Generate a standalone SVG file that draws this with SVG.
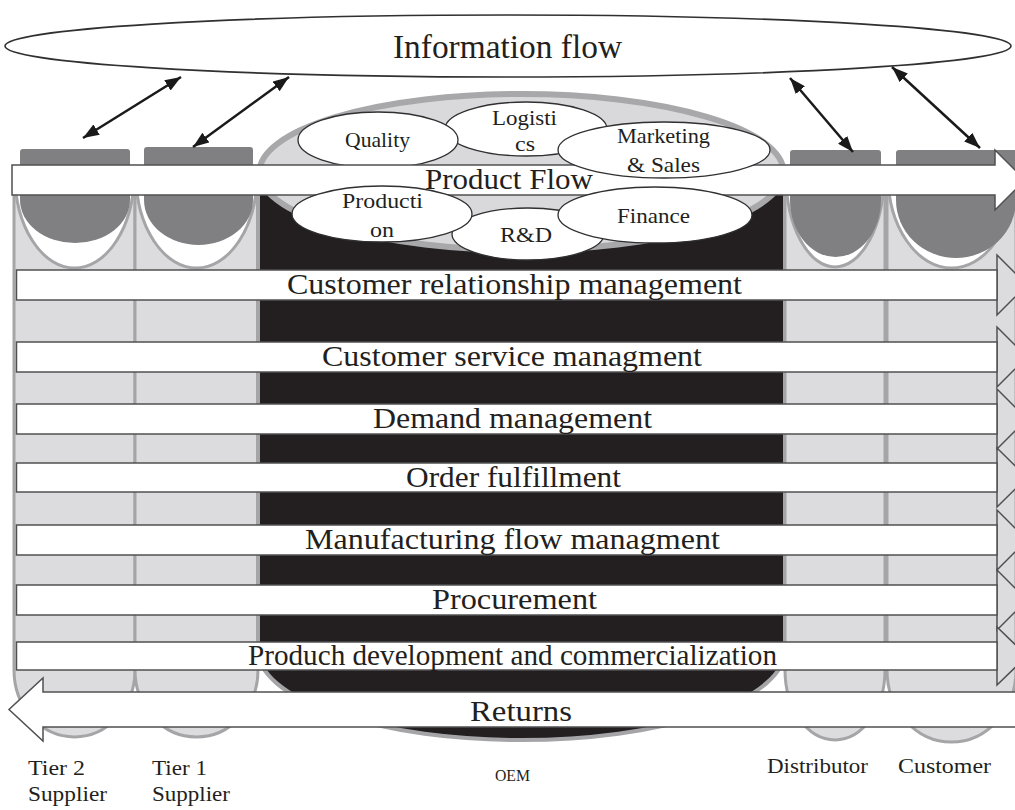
<svg xmlns="http://www.w3.org/2000/svg" width="1015" height="810" viewBox="0 0 1015 810">
  <defs>
    <style>
      .lbl{font-family:"Liberation Serif","Times New Roman",serif;fill:#231f20}
      .body{fill:#dcdcde;stroke:#a5a5a7;stroke-width:3}
      .cap{fill:#808083}
      .rim{fill:#fff;stroke:#a5a5a7;stroke-width:3}
      .bar{fill:#fff;stroke:#505052;stroke-width:1.5}
      .head{fill:#dcdcde;stroke:#505052;stroke-width:1.5}
      .fn{fill:#fff;stroke:#303032;stroke-width:1.3}
      .link{stroke:#1a1a1a;stroke-width:2.5;fill:none;marker-start:url(#tip);marker-end:url(#tip)}
    </style>
    <marker id="tip" viewBox="0 0 16 12" refX="16" refY="6" markerWidth="16" markerHeight="12" markerUnits="userSpaceOnUse" orient="auto-start-reverse">
      <path d="M0,0 L16,6 L0,12 Z" fill="#1a1a1a"/>
    </marker>
  </defs>

  <rect width="1015" height="810" fill="#fff"/>

  <!-- information layer -->
  <g id="information-flow">
    <ellipse cx="508" cy="46" rx="503" ry="31" fill="#fff" stroke="#303032" stroke-width="1.6"/>
    <text class="lbl" x="393" y="58" font-size="34" textLength="229" lengthAdjust="spacingAndGlyphs">Information flow</text>
  </g>

  <!-- supply chain members as cylinders -->
  <g id="tier2-supplier">
    <path class="body" d="M14,170 V670 A60.5,67 0 0 0 135,670 V170 Z"/>
    <path class="rim" d="M15,175 A59.5,93 0 0 0 134,175 Z"/>
    <path class="cap" d="M20,152 Q20,149 23,149 H127 Q130,149 130,152 V200 A55,43 0 0 1 20,200 Z"/>
  </g>
  <g id="tier1-supplier">
    <path class="body" d="M135,170 V670 A61.5,67 0 0 0 258,670 V170 Z"/>
    <path class="rim" d="M136,175 A60.5,93 0 0 0 257,175 Z"/>
    <path class="cap" d="M144,150 Q144,147 147,147 H250 Q253,147 253,150 V200 A54.5,45 0 0 1 144,200 Z"/>
  </g>
  <g id="oem">
    <path d="M258,172 V650 A263.5,90 0 0 0 785,650 V172 Z" fill="#231f20" stroke="#a5a5a7" stroke-width="4"/>
    <ellipse cx="521.5" cy="172" rx="262" ry="78" fill="#d9d9db" stroke="#a8a8aa" stroke-width="6"/>
  </g>
  <g id="distributor">
    <path class="body" d="M785,170 V670 A50,70 0 0 0 885,670 V170 Z"/>
    <path class="rim" d="M786,175 A49,92 0 0 0 884,175 Z"/>
    <path class="cap" d="M790,153 Q790,150 793,150 H878 Q881,150 881,153 V200 A45.5,57 0 0 1 790,200 Z"/>
  </g>
  <g id="customer">
    <path class="body" d="M887,170 V670 A64.5,72 0 0 0 1016,670 V170 Z"/>
    <path class="rim" d="M888,175 A63.5,93 0 0 0 1015,175 Z"/>
    <path class="cap" d="M896,153 Q896,150 899,150 H1016 V200 A60,58 0 0 1 896,200 Z"/>
  </g>

  <!-- OEM functions behind the product flow -->
  <g id="fn-logistics">
    <ellipse class="fn" cx="526" cy="129" rx="81" ry="27"/>
    <text class="lbl" x="492" y="125" font-size="21" textLength="65" lengthAdjust="spacingAndGlyphs">Logisti</text>
    <text class="lbl" x="515" y="151" font-size="21" textLength="20" lengthAdjust="spacingAndGlyphs">cs</text>
  </g>
  <g id="fn-quality">
    <ellipse class="fn" cx="378" cy="140" rx="80" ry="28"/>
    <text class="lbl" x="345" y="147" font-size="21" textLength="65" lengthAdjust="spacingAndGlyphs">Quality</text>
  </g>
  <g id="fn-rd">
    <ellipse class="fn" cx="528" cy="234" rx="76" ry="26"/>
    <text class="lbl" x="500" y="242" font-size="21" textLength="52" lengthAdjust="spacingAndGlyphs">R&amp;D</text>
  </g>

  <!-- product flow -->
  <g id="product-flow">
    <path class="bar" d="M12,165 H995 V150 L1025,180 L995,210 V195 H12 Z"/>
  </g>

  <g id="fn-marketing">
    <ellipse class="fn" cx="664" cy="150" rx="106" ry="28"/>
    <text class="lbl" x="617" y="143" font-size="21" textLength="93" lengthAdjust="spacingAndGlyphs">Marketing</text>
    <text class="lbl" x="627" y="172" font-size="21" textLength="73" lengthAdjust="spacingAndGlyphs">&amp; Sales</text>
  </g>
  <g id="fn-production">
    <ellipse class="fn" cx="382" cy="214" rx="90" ry="28"/>
    <text class="lbl" x="342" y="208" font-size="21" textLength="81" lengthAdjust="spacingAndGlyphs">Producti</text>
    <text class="lbl" x="370" y="237" font-size="21" textLength="24" lengthAdjust="spacingAndGlyphs">on</text>
  </g>
  <g id="fn-finance">
    <ellipse class="fn" cx="655" cy="215" rx="97" ry="28"/>
    <text class="lbl" x="617" y="223" font-size="21" textLength="73" lengthAdjust="spacingAndGlyphs">Finance</text>
  </g>

  <text class="lbl" x="425" y="189" font-size="29" textLength="168" lengthAdjust="spacingAndGlyphs">Product Flow</text>

  <!-- business processes -->
  <g id="crm">
    <path class="head" d="M997,270 V255 L1027,285 L997,315 V300 Z"/>
    <rect class="bar" x="16.5" y="270" width="980.5" height="30"/>
    <text class="lbl" x="287" y="294" font-size="29" textLength="455" lengthAdjust="spacingAndGlyphs">Customer relationship management</text>
  </g>
  <g id="customer-service">
    <path class="head" d="M997,342 V327 L1027,357 L997,387 V372 Z"/>
    <rect class="bar" x="16.5" y="342" width="980.5" height="30"/>
    <text class="lbl" x="322" y="366" font-size="29" textLength="380" lengthAdjust="spacingAndGlyphs">Customer service managment</text>
  </g>
  <g id="demand">
    <path class="head" d="M997,404 V389 L1027,419 L997,449 V434 Z"/>
    <rect class="bar" x="16.5" y="404" width="980.5" height="30"/>
    <text class="lbl" x="373" y="428" font-size="29" textLength="279" lengthAdjust="spacingAndGlyphs">Demand management</text>
  </g>
  <g id="order-fulfillment">
    <path class="head" d="M997,463 V448 L1027,477.5 L997,507 V492 Z"/>
    <rect class="bar" x="16.5" y="463" width="980.5" height="29"/>
    <text class="lbl" x="406" y="487" font-size="29" textLength="215" lengthAdjust="spacingAndGlyphs">Order fulfillment</text>
  </g>
  <g id="manufacturing-flow">
    <path class="head" d="M997,525 V510 L1027,540 L997,570 V555 Z"/>
    <rect class="bar" x="16.5" y="525" width="980.5" height="30"/>
    <text class="lbl" x="305" y="549" font-size="29" textLength="415" lengthAdjust="spacingAndGlyphs">Manufacturing flow managment</text>
  </g>
  <g id="procurement">
    <path class="head" d="M997,585 V570 L1027,600 L997,630 V615 Z"/>
    <rect class="bar" x="16.5" y="585" width="980.5" height="30"/>
    <text class="lbl" x="432" y="609" font-size="29" textLength="165" lengthAdjust="spacingAndGlyphs">Procurement</text>
  </g>
  <g id="product-development">
    <path class="head" d="M997,642 V627 L1027,656 L997,685 V670 Z"/>
    <rect class="bar" x="16.5" y="642" width="980.5" height="28"/>
    <text class="lbl" x="248" y="665" font-size="29" textLength="529" lengthAdjust="spacingAndGlyphs">Produch development and commercialization</text>
  </g>
  <g id="returns">
    <path class="bar" d="M1020,692 H43 V678 L9,709.5 L43,741 V727 H1020 Z"/>
    <text class="lbl" x="470" y="721" font-size="29" textLength="102" lengthAdjust="spacingAndGlyphs">Returns</text>
  </g>

  <!-- information exchange links -->
  <g id="connectors">
    <line class="link" x1="83" y1="138" x2="181" y2="77"/>
    <line class="link" x1="193" y1="147" x2="289" y2="77"/>
    <line class="link" x1="853" y1="152" x2="790" y2="78"/>
    <line class="link" x1="980" y1="148" x2="892" y2="67"/>
  </g>

  <!-- member captions -->
  <g id="captions">
    <text class="lbl" x="28" y="775" font-size="22" textLength="57" lengthAdjust="spacingAndGlyphs">Tier 2</text>
    <text class="lbl" x="28" y="801" font-size="22" textLength="79" lengthAdjust="spacingAndGlyphs">Supplier</text>
    <text class="lbl" x="152" y="775" font-size="22" textLength="55" lengthAdjust="spacingAndGlyphs">Tier 1</text>
    <text class="lbl" x="152" y="801" font-size="22" textLength="78" lengthAdjust="spacingAndGlyphs">Supplier</text>
    <text class="lbl" x="495" y="781" font-size="17" textLength="35" lengthAdjust="spacingAndGlyphs">OEM</text>
    <text class="lbl" x="767" y="773" font-size="22" textLength="101" lengthAdjust="spacingAndGlyphs">Distributor</text>
    <text class="lbl" x="898" y="773" font-size="22" textLength="93" lengthAdjust="spacingAndGlyphs">Customer</text>
  </g>
</svg>
